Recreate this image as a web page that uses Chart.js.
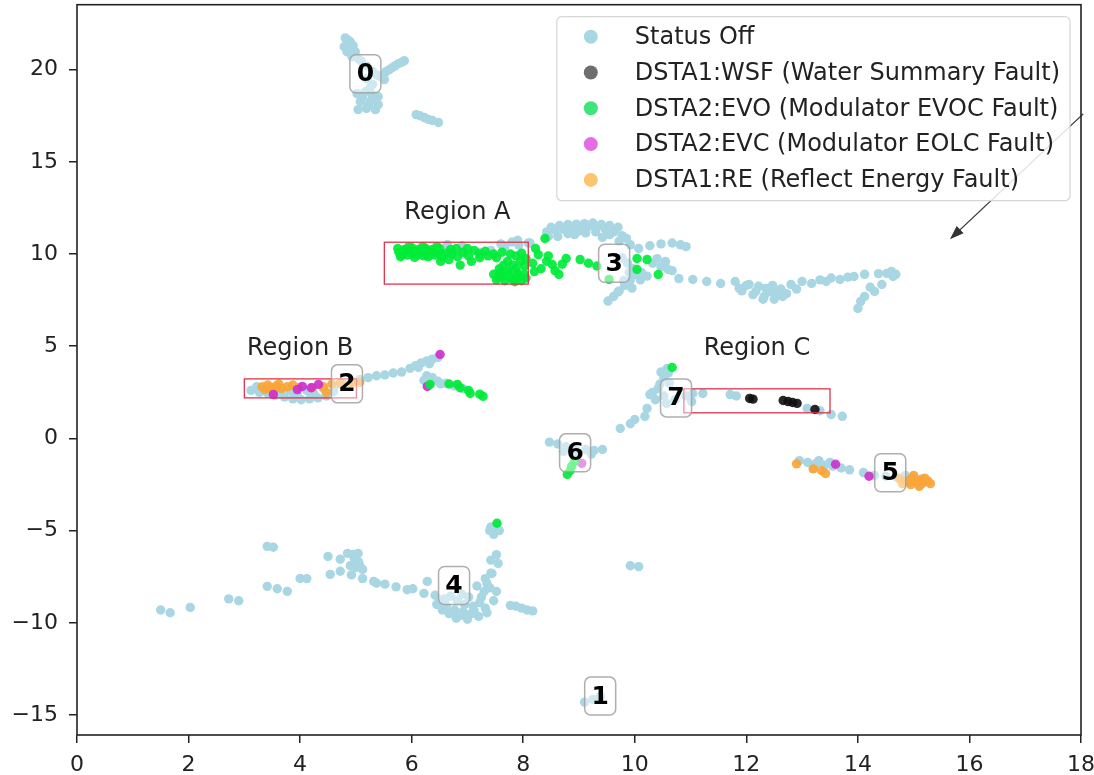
<!DOCTYPE html>
<html>
<head>
<meta charset="utf-8">
<script src="https://cdn.jsdelivr.net/npm/chart.js@4.4.0/dist/chart.umd.min.js"></script>
<style>
  body { margin: 0; background: #fff; }
  canvas { display: block; }
</style>
</head>
<body>
<canvas id="clusterChart" width="1094" height="775"></canvas>
<script>
// series labels (legend order)
const seriesLabels = [
  'Status Off',
  'DSTA1:WSF (Water Summary Fault)',
  'DSTA2:EVO (Modulator EVOC Fault)',
  'DSTA2:EVC (Modulator EOLC Fault)',
  'DSTA1:RE (Reflect Energy Fault)'
];

// points, [x, y]
const statusOff = [
  // cluster 0
  [4.81,21.72],[4.9,21.51],[4.79,21.24],[4.84,20.97],[4.99,20.97],[4.93,20.7],[5.04,20.59],[4.86,21.6],[4.95,21.3],
  [5.1,20.45],[5.2,20.2],[5.3,19.9],[5.2,19.5],[5.3,19.2],[5.25,19.0],[5.38,19.7],
  [5.44,19.62],[5.54,19.89],[5.65,20.1],[5.76,20.32],[5.87,20.48],[5.51,19.46],[5.6,20.0],[5.7,20.2],[5.82,20.4],
  [5.02,18.7],[5.17,18.8],[5.29,18.64],[5.4,18.53],[5.08,18.27],[5.26,18.27],[5.4,18.1],[5.04,17.83],[5.19,17.89],
  [5.35,17.83],[5.12,18.5],[5.33,18.4],[5.22,18.05],
  [6.08,17.56],[6.23,17.4],[6.37,17.24],[6.48,17.13],[6.15,17.5],[6.3,17.3],
  // cluster 3
  [8.42,11.2],[8.57,11.3],[8.72,11.35],[8.87,11.4],[9.02,11.45],[9.17,11.5],[9.32,11.45],[9.47,11.35],[9.62,11.2],
  [9.77,11.0],[9.12,11.15],[8.92,11.05],[8.62,10.95],[9.42,10.9],[9.72,10.7],[9.92,10.5],[10.07,10.3],[10.27,10.45],
  [10.47,10.55],[10.67,10.6],[10.82,10.5],[10.92,10.4],
  [8.5,11.45],[8.65,11.55],[8.8,11.6],[8.95,11.62],[9.1,11.65],[9.25,11.68],[9.4,11.6],[9.55,11.55],[9.7,11.45],
  [8.8,11.1],[9.0,11.25],[9.3,11.2],[9.55,11.05],[9.85,10.85],[8.45,10.95],
  [9.77,9.8],[9.87,9.5],[9.97,9.2],[10.02,8.9],[9.92,8.6],[9.82,8.3],[9.72,8.0],[9.62,7.7],[9.52,7.45],[10.12,9.0],[10.22,8.8],
  [9.9,9.0],[10.1,8.6],[9.8,8.55],[9.95,8.15],[9.7,7.95],
  [7.22,10.1],[7.42,10.2],[7.67,10.4],[7.92,10.5],[8.12,10.6],[6.72,10.15],[6.42,10.2],[6.92,10.0],[6.64,10.5],[6.9,10.45],
  [7.9,10.75],[8.09,10.6],[7.6,10.55],[7.8,10.65],
  [10.6,9.16],[10.79,8.67],[11.04,8.62],[11.29,8.51],[11.54,8.4],[11.8,8.51],[12.05,8.35],[12.17,7.97],[12.35,8.13],
  [12.55,7.97],[12.8,8.35],[13.0,8.51],[13.17,8.4],[13.43,8.51],[13.68,8.62],[13.93,8.78],[14.37,8.94],[14.63,8.78],
  [14.43,8.35],[14.3,7.97],[14.05,7.43],[14.0,7.05],
  [11.92,8.0],[12.12,7.8],[12.32,7.7],[12.52,7.75],[12.72,7.85],[12.22,8.25],[12.47,8.3],[11.87,8.15],[12.62,8.1],
  [12.0,8.3],[12.4,7.95],[12.65,7.7],[12.9,8.1],[12.3,7.55],[12.5,7.55],
  [13.32,8.6],[13.52,8.7],[13.82,8.75],[14.12,8.9],[14.52,8.95],[14.22,8.2],[14.12,7.7],[14.6,9.05],[14.68,8.9],
  [10.32,9.5],[10.47,9.3],[10.67,9.1],[10.4,9.75],[10.55,9.6],
  // cluster 2
  [3.12,2.6],[3.27,2.5],[3.42,2.45],[3.57,2.35],[3.72,2.25],[3.87,2.15],[4.02,2.1],[4.17,2.15],[4.32,2.2],[4.47,2.3],
  [3.22,2.8],[3.52,2.7],[3.82,2.6],[4.12,2.6],[4.42,2.7],[4.62,2.85],[4.77,2.95],[4.92,3.1],[5.07,3.2],[5.22,3.3],
  [5.37,3.4],[5.52,3.45],[5.67,3.55],[5.82,3.6],[5.97,3.8],[6.07,3.95],[6.17,4.1],[6.27,4.2],[6.37,4.3],[6.47,4.4],
  [6.12,3.85],[6.32,4.05],[3.65,2.45],[3.95,2.35],[4.25,2.4],[4.6,2.55],[3.35,2.6],
  [6.27,3.4],[6.37,3.3],[6.47,3.1],[6.62,3.0],[6.77,2.85],[6.92,2.7],[6.32,3.0],[6.52,2.95],[6.22,3.15],
  // cluster 7
  [10.58,3.8],[10.47,3.6],[10.52,3.3],[10.62,3.0],[10.42,2.7],[10.32,2.5],[10.52,2.3],[10.72,2.1],[10.92,2.3],
  [11.02,2.0],[10.37,2.1],[10.27,2.38],[10.57,1.9],[10.6,3.55],[10.45,2.95],
  [9.74,0.54],[9.92,0.8],[10.0,1.03],[10.18,1.19],[10.22,1.63],
  [11.04,2.44],[11.22,2.44],[11.71,2.38],[11.82,2.3],[13.09,1.63],[13.32,1.5],[13.52,1.3],[13.72,1.2],
  // cluster 6
  [8.47,-0.2],[8.62,-0.3],[8.77,-0.45],[8.92,-0.5],[9.12,-0.6],[9.27,-0.65],[9.42,-0.6],[8.72,-0.7],[8.97,-0.8],[9.22,-0.85],
  // cluster 5
  [12.95,-1.2],[13.1,-1.3],[13.25,-1.35],[13.4,-1.45],[13.55,-1.5],[13.7,-1.6],[13.85,-1.7],[13.3,-1.2],[13.5,-1.3],[13.2,-1.6],
  [14.1,-1.85],[14.3,-2.0],[14.5,-2.05],[14.7,-2.1],[14.85,-2.0],[15.0,-2.1],[15.15,-2.2],[15.25,-2.35],[14.9,-2.4],[15.1,-2.5],
  // cluster 4
  [1.5,-9.3],[1.67,-9.45],[2.03,-9.16],[2.72,-8.7],[2.9,-8.8],[3.41,-8.02],[3.59,-8.15],[3.77,-8.29],[4.0,-7.59],[4.12,-7.6],
  [3.41,-5.85],[3.52,-5.9],[4.54,-7.37],[4.5,-6.4],[4.72,-6.55],[4.85,-6.23],[4.97,-6.5],[5.07,-6.9],[5.12,-7.1],[4.9,-6.9],
  [4.95,-6.29],[5.04,-6.23],[4.72,-7.2],[4.92,-7.4],[5.12,-7.6],[5.32,-7.75],[5.37,-7.85],[5.52,-7.9],[5.72,-8.05],[5.92,-8.2],
  [6.02,-8.15],[6.22,-8.4],[6.28,-7.75],[5.0,-7.0],[5.05,-6.7],
  [6.42,-8.5],[6.52,-8.9],[6.62,-9.1],[6.77,-9.3],[6.92,-9.4],[7.07,-9.5],[6.82,-8.8],[7.02,-8.6],[7.22,-8.9],[7.32,-9.2],
  [6.67,-9.5],[6.87,-9.6],[7.12,-9.35],[6.6,-8.7],[6.95,-9.0],[6.45,-9.0],[6.55,-9.3],[6.8,-9.75],[7.0,-9.8],[7.2,-9.65],
  [7.35,-9.45],[6.7,-8.55],[7.1,-9.1],[6.9,-8.45],[7.25,-8.6],[6.5,-8.75],
  [7.17,-8.0],[7.32,-7.6],[7.42,-7.3],[7.52,-8.3],[7.47,-8.8],[7.42,-6.6],[7.52,-6.3],[7.55,-6.78],[7.44,-7.32],[7.35,-7.86],
  [7.3,-8.3],[7.4,-8.1],
  [7.42,-4.8],[7.52,-4.7],[7.57,-5.0],[7.47,-5.2],[7.4,-5.0],
  [7.77,-9.05],[7.97,-9.2],[8.17,-9.35],[7.87,-9.1],[8.07,-9.3],
  [9.92,-6.9],[10.07,-6.95],
  // cluster 1
  [9.1,-14.3],[9.25,-14.15],[9.38,-14.0]
];

const wsfFault = [
  [12.06,2.17],[12.12,2.13],[12.66,2.06],[12.75,2.0],[12.83,1.95],[12.91,1.9],[13.23,1.57]
];

const evoFault = [
  // region A
  [5.77,10.1],[5.87,10.15],[5.97,10.1],[6.07,10.15],[6.17,10.1],[6.27,10.15],[6.37,10.1],[6.47,10.05],[5.82,9.95],
  [5.92,9.95],[6.02,10.0],[6.12,9.95],[6.22,9.9],[6.32,10.0],[6.42,9.95],[6.52,10.0],[6.62,10.05],[6.72,10.0],
  [5.87,10.25],[6.12,10.25],[6.37,10.25],[5.75,10.3],[6.0,10.35],[6.25,10.3],[6.5,10.3],[5.8,9.85],[6.05,9.82],
  [6.3,9.85],[6.55,9.85],[6.7,10.25],[5.95,10.4],[6.2,10.4],[6.45,10.4],
  [6.82,9.85],[6.92,10.1],[7.02,9.9],[7.12,10.2],[7.22,10.0],[6.67,9.7],[6.52,9.6],[6.87,9.4],[7.07,9.6],[7.22,9.8],
  [7.37,9.9],[7.32,10.15],[6.8,10.3],[7.0,10.3],
  [7.47,10.0],[7.62,10.1],[7.77,10.0],[7.87,9.9],[7.97,10.05],[7.52,9.8],[7.72,9.6],[7.82,9.4],[7.57,9.2],[7.72,9.1],
  [7.87,9.2],[8.02,9.35],[7.47,8.9],[7.62,8.8],[7.77,8.7],[7.92,8.75],[8.02,8.9],[7.52,8.6],[7.67,8.55],[7.82,8.6],[7.97,8.55],
  [7.6,9.0],[7.75,8.95],[7.9,8.95],[8.05,8.7],[7.65,9.4],[7.95,9.6],[8.05,9.75],[7.55,8.75],[7.85,8.5],
  [8.27,9.97],[8.39,10.84],[8.52,9.43],[8.64,8.89],[8.77,9.76],[8.17,9.5],[8.32,9.2],[8.42,9.6],[8.57,9.1],[8.22,10.3],
  [8.2,9.05],[8.45,9.9],[8.7,9.45],
  [9.02,9.7],[9.17,9.5],[9.32,9.35],[9.54,8.62],[10.04,9.76],[10.22,9.7],[10.04,9.16],[10.42,8.89],
  // region B side
  [6.33,2.93],[6.67,2.95],[6.82,2.93],[6.87,2.75],[7.02,2.6],[7.05,2.44],[7.22,2.4],[7.28,2.28],
  // clusters 7, 6, 4
  [10.67,3.85],
  [8.92,-1.25],[8.87,-1.5],[8.84,-1.75],[8.79,-1.95],
  [7.53,-4.6]
];

const evcFault = [
  [6.51,4.55],[6.28,2.82],[3.52,2.38],[3.95,2.65],[4.04,2.82],[4.33,2.93],[4.2,2.75],
  [9.05,-1.35],
  [13.6,-1.4],[14.2,-2.05]
];

const reFault = [
  [3.32,2.8],[3.42,2.9],[3.47,2.75],[3.57,2.85],[3.67,2.7],[3.77,2.8],[3.87,2.9],[3.97,2.75],[3.37,2.65],[3.62,2.95],
  [4.22,2.75],[4.42,2.8],[4.57,2.95],[4.72,3.0],[4.92,3.0],[5.07,3.05],[3.52,2.5],[4.47,2.5],
  [12.9,-1.38],[13.2,-1.65],[13.35,-1.75],[13.42,-1.9],
  [14.85,-2.3],[14.95,-2.2],[15.05,-2.35],[15.15,-2.45],[15.25,-2.3],[14.95,-2.5],[15.1,-2.6],[15.2,-2.15],[14.8,-2.45],
  [15.0,-2.0],[15.1,-2.25],[15.3,-2.45],[14.75,-2.2]
];

// axis ticks
const xTicks = [0, 2, 4, 6, 8, 10, 12, 14, 16, 18];
const yTicks = [-15, -10, -5, 0, 5, 10, 15, 20];

// cluster numbers and where they sit
const clusterIds = ['0', '1', '2', '3', '4', '5', '6', '7'];
const clusterX = [5.17, 9.38, 4.84, 9.63, 6.76, 14.58, 8.93, 10.74];
const clusterY = [19.78, -13.97, 2.96, 9.5, -7.97, -1.86, -0.78, 2.2];

// highlighted regions: label position and box [x0, x1, y0, y1]
const regionNames = ['Region A', 'Region B', 'Region C'];
const regionLabelX = [6.82, 4.0, 12.19];
const regionLabelY = [12.25, 4.85, 4.85];
const regionBoxes = [
  [5.51, 8.09, 8.37, 10.64],
  [3.0, 5.01, 2.2, 3.23],
  [10.88, 13.5, 1.39, 2.69]
];

// arrow pointing at empty area
const arrowFrom = [18.04, 17.6];
const arrowTo = [15.65, 10.8];

const pointColors = ['#a9d6e3', 'rgba(15,15,15,0.9)', 'rgba(0,236,58,0.92)', 'rgba(205,45,205,0.9)', 'rgba(250,165,55,0.92)'];
const legendColors = ['#a9d6e3', '#6e6e6e', '#3fe57a', '#e46ce4', '#fcc46e'];

const toPoints = arr => arr.map(p => ({ x: p[0], y: p[1] }));
const allSeries = [statusOff, wsfFault, evoFault, evcFault, reFault];

const datasets = allSeries.map((s, i) => ({
  label: seriesLabels[i],
  data: toPoints(s),
  backgroundColor: pointColors[i],
  borderWidth: 0,
  pointRadius: 4.7,
  pointHoverRadius: 4.7,
  order: i === 0 ? 1 : 0
}));

const FONT = '"DejaVu Sans", sans-serif';

// draws boxes, labels, arrow, legend and the axes frame
const extrasPlugin = {
  id: 'extras',
  afterDatasetsDraw(chart) {
    const ctx = chart.ctx;
    const xs = chart.scales.x;
    const ys = chart.scales.y;
    const area = chart.chartArea;

    ctx.save();

    // red region boxes
    ctx.strokeStyle = '#e0334a';
    ctx.lineWidth = 1.3;
    regionBoxes.forEach(b => {
      const x0 = xs.getPixelForValue(b[0]);
      const x1 = xs.getPixelForValue(b[1]);
      const y0 = ys.getPixelForValue(b[3]);
      const y1 = ys.getPixelForValue(b[2]);
      ctx.strokeRect(x0, y0, x1 - x0, y1 - y0);
    });

    // region names
    ctx.fillStyle = '#222';
    ctx.font = '24px ' + FONT;
    ctx.textAlign = 'center';
    ctx.textBaseline = 'middle';
    regionNames.forEach((n, i) => {
      ctx.fillText(n, xs.getPixelForValue(regionLabelX[i]), ys.getPixelForValue(regionLabelY[i]));
    });

    // cluster numbers in rounded boxes
    clusterIds.forEach((id, i) => {
      const cx = xs.getPixelForValue(clusterX[i]);
      const cy = ys.getPixelForValue(clusterY[i]);
      const w = 31, h = 38;
      ctx.beginPath();
      ctx.roundRect(cx - w / 2, cy - h / 2, w, h, 6);
      ctx.fillStyle = 'rgba(255,255,255,0.45)';
      ctx.fill();
      ctx.strokeStyle = 'rgba(160,160,160,0.85)';
      ctx.lineWidth = 1.5;
      ctx.stroke();
      ctx.fillStyle = '#000';
      ctx.font = 'bold 25px ' + FONT;
      ctx.fillText(id, cx, cy + 1);
    });

    // arrow
    const ax0 = xs.getPixelForValue(arrowFrom[0]);
    const ay0 = ys.getPixelForValue(arrowFrom[1]);
    const ax1 = xs.getPixelForValue(arrowTo[0]);
    const ay1 = ys.getPixelForValue(arrowTo[1]);
    const ang = Math.atan2(ay1 - ay0, ax1 - ax0);
    const headLen = 14, headW = 5;
    ctx.strokeStyle = '#333';
    ctx.fillStyle = '#333';
    ctx.lineWidth = 1.3;
    ctx.beginPath();
    ctx.moveTo(ax0, ay0);
    ctx.lineTo(ax1 - Math.cos(ang) * headLen * 0.8, ay1 - Math.sin(ang) * headLen * 0.8);
    ctx.stroke();
    ctx.beginPath();
    ctx.moveTo(ax1, ay1);
    ctx.lineTo(ax1 - Math.cos(ang) * headLen - Math.sin(ang) * headW, ay1 - Math.sin(ang) * headLen + Math.cos(ang) * headW);
    ctx.lineTo(ax1 - Math.cos(ang) * headLen + Math.sin(ang) * headW, ay1 - Math.sin(ang) * headLen - Math.cos(ang) * headW);
    ctx.closePath();
    ctx.fill();

    // legend
    ctx.font = '24px ' + FONT;
    const textW = Math.max(...seriesLabels.map(l => ctx.measureText(l).width));
    const boxW = textW + 88;
    const rowH = 35.8;
    const boxH = rowH * seriesLabels.length + 5;
    const bx = area.right - 11 - boxW;
    const by = area.top + 12;
    ctx.beginPath();
    ctx.roundRect(bx, by, boxW, boxH, 5);
    ctx.fillStyle = 'rgba(255,255,255,0.85)';
    ctx.fill();
    ctx.strokeStyle = '#d6d6d6';
    ctx.lineWidth = 1.2;
    ctx.stroke();
    ctx.textAlign = 'left';
    seriesLabels.forEach((l, i) => {
      const ry = by + 20 + i * rowH;
      ctx.beginPath();
      ctx.arc(bx + 34, ry, 7, 0, Math.PI * 2);
      ctx.fillStyle = legendColors[i];
      ctx.fill();
      ctx.fillStyle = '#222';
      ctx.fillText(l, bx + 78, ry + 1);
    });

    // axes frame
    ctx.strokeStyle = '#222';
    ctx.lineWidth = 1.6;
    ctx.strokeRect(area.left, area.top, area.right - area.left, area.bottom - area.top);

    ctx.restore();
  }
};

const tickFont = { family: FONT, size: 22 };
const fmt = v => String(v).replace('-', '\u2212');

new Chart(document.getElementById('clusterChart').getContext('2d'), {
  type: 'scatter',
  data: { datasets: datasets },
  options: {
    responsive: false,
    animation: false,
    devicePixelRatio: 1,
    layout: { padding: { top: 3, right: 13, left: 0, bottom: 0 } },
    plugins: { legend: { display: false }, tooltip: { enabled: false } },
    scales: {
      x: {
        type: 'linear',
        min: 0,
        max: 18,
        afterBuildTicks: axis => { axis.ticks = xTicks.map(v => ({ value: v })); },
        afterFit: axis => {
          axis.height = 40;
          axis.paddingLeft = 0;
          axis.paddingRight = 0;
        },
        ticks: { font: tickFont, color: '#222', padding: 9, maxRotation: 0, autoSkip: false, callback: fmt },
        grid: { display: true, drawOnChartArea: false, drawTicks: true, tickLength: 8, color: '#222', lineWidth: 1.5 },
        border: { display: false }
      },
      y: {
        type: 'linear',
        min: -16.08,
        max: 23.52,
        afterBuildTicks: axis => { axis.ticks = yTicks.map(v => ({ value: v })); },
        afterFit: axis => {
          axis.width = 77;
          axis.paddingTop = 0;
          axis.paddingBottom = 0;
        },
        ticks: { font: tickFont, color: '#222', padding: 11, autoSkip: false, callback: fmt },
        grid: { display: true, drawOnChartArea: false, drawTicks: true, tickLength: 8, color: '#222', lineWidth: 1.5 },
        border: { display: false }
      }
    }
  },
  plugins: [extrasPlugin]
});
</script>
</body>
</html>
